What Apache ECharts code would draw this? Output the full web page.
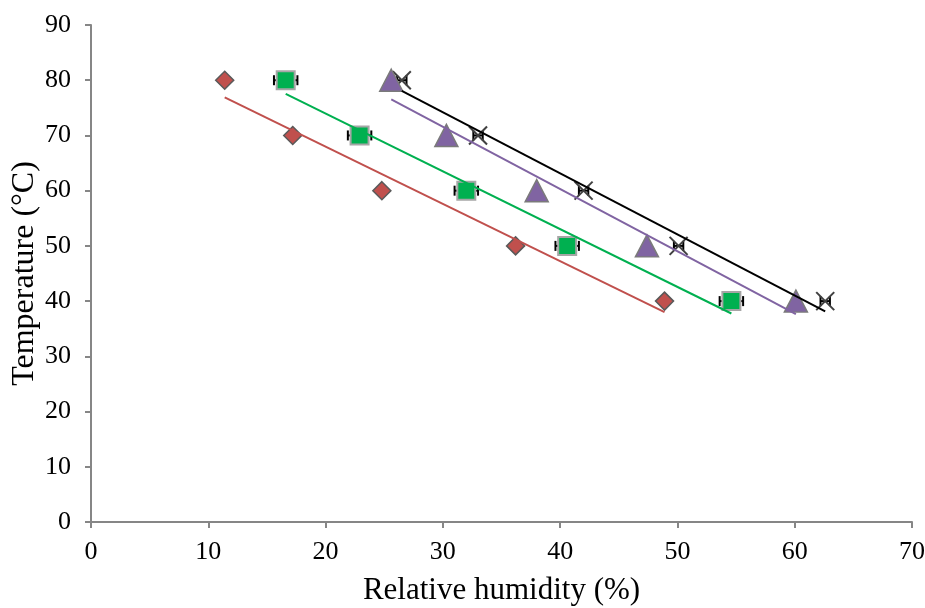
<!DOCTYPE html>
<html>
<head>
<meta charset="utf-8">
<script src="https://cdn.jsdelivr.net/npm/echarts@6/dist/echarts.min.js"></script>
<style>
  html, body { margin: 0; padding: 0; background: #fff; }
  #chart { width: 925px; height: 608px; }
</style>
</head>
<body>
<div id="chart"></div>
<script>
// temperatures (same for every series)
var temps = [80, 70, 60, 50, 40];
// relative humidity, one array per series
var rhDiamond = [11.4, 17.2, 24.8, 36.2, 48.9];
var rhSquare = [16.6, 22.9, 32.0, 40.6, 54.6];
var rhTriangle = [25.6, 30.3, 38.0, 47.4, 60.1];
var rhCross = [26.5, 33.0, 42.0, 50.1, 62.6];
// horizontal error (±) for the two series that show bars
var errSquare = [1.0, 1.0, 1.0, 1.0, 1.0];
var errCross = [0.4, 0.4, 0.4, 0.4, 0.4];

var xTicks = [0, 10, 20, 30, 40, 50, 60, 70];
var yTicks = [0, 10, 20, 30, 40, 50, 60, 70, 80, 90];

function pairs(xs) {
  return xs.map(function (x, i) { return [x, temps[i]]; });
}

// least squares trendline (y on x), drawn across the data range
function trend(xs) {
  var n = xs.length, mx = 0, my = 0;
  for (var i = 0; i < n; i++) { mx += xs[i]; my += temps[i]; }
  mx /= n; my /= n;
  var sxy = 0, sxx = 0;
  for (var j = 0; j < n; j++) {
    sxy += (xs[j] - mx) * (temps[j] - my);
    sxx += (xs[j] - mx) * (xs[j] - mx);
  }
  var b = sxy / sxx, a = my - b * mx;
  var lo = Math.min.apply(null, xs), hi = Math.max.apply(null, xs);
  return [[lo, a + b * lo], [hi, a + b * hi]];
}

function errData(xs, errs) {
  return xs.map(function (x, i) { return [x, temps[i], errs[i]]; });
}

function errorBars(capH, withCross) {
  return function (params, api) {
    var x = api.value(0), y = api.value(1), e = api.value(2);
    var l = api.coord([x - e, y]), r = api.coord([x + e, y]), c = api.coord([x, y]);
    var st = { stroke: '#000', lineWidth: 2 };
    var kids = [
      { type: 'line', shape: { x1: l[0], y1: l[1], x2: r[0], y2: r[1] }, style: st },
      { type: 'line', shape: { x1: l[0], y1: l[1] - capH, x2: l[0], y2: l[1] + capH }, style: st },
      { type: 'line', shape: { x1: r[0], y1: r[1] - capH, x2: r[0], y2: r[1] + capH }, style: st }
    ];
    if (withCross) {
      var s = 9, cs = { stroke: '#404040', lineWidth: 2 };
      kids.push({ type: 'line', shape: { x1: c[0] - s, y1: c[1] - s, x2: c[0] + s, y2: c[1] + s }, style: cs });
      kids.push({ type: 'line', shape: { x1: c[0] - s, y1: c[1] + s, x2: c[0] + s, y2: c[1] - s }, style: cs });
    }
    return { type: 'group', children: kids };
  };
}

var font = 'Liberation Serif';
var axisGray = '#868686';

var chart = echarts.init(document.getElementById('chart'));
var option = {
  animation: false,
  grid: { left: 91, right: 13, top: 25, bottom: 86, outerBoundsMode: 'none', containLabel: false },
  xAxis: {
    type: 'value',
    min: xTicks[0], max: xTicks[xTicks.length - 1], interval: 10,
    name: 'Relative humidity (%)',
    nameLocation: 'middle', nameGap: 53, nameMoveOverlap: false,
    nameTextStyle: { fontFamily: font, fontSize: 31, color: '#000' },
    axisLine: { show: true, lineStyle: { color: axisGray, width: 2 } },
    axisTick: { show: true, length: 6, lineStyle: { color: axisGray, width: 2 } },
    axisLabel: { fontFamily: font, fontSize: 26, color: '#000', margin: 17 },
    splitLine: { show: false }
  },
  yAxis: {
    type: 'value',
    min: yTicks[0], max: yTicks[yTicks.length - 1], interval: 10,
    name: 'Temperature (°C)',
    nameLocation: 'middle', nameGap: 50, nameMoveOverlap: false,
    nameTextStyle: { fontFamily: font, fontSize: 32, color: '#000' },
    axisLine: { show: true, lineStyle: { color: axisGray, width: 2 } },
    axisTick: { show: true, length: 6, lineStyle: { color: axisGray, width: 2 } },
    axisLabel: { fontFamily: font, fontSize: 26, color: '#000', margin: 20 },
    splitLine: { show: false }
  },
  series: [
    {
      type: 'custom', z: 2, renderItem: errorBars(5, false),
      data: errData(rhSquare, errSquare)
    },
    {
      type: 'scatter', z: 3, symbol: 'diamond', symbolSize: 18,
      itemStyle: { color: '#C0504D', borderColor: '#5a5a5a', borderWidth: 1.5, opacity: 1 },
      data: pairs(rhDiamond)
    },
    {
      type: 'scatter', z: 3, symbol: 'rect', symbolSize: 18,
      itemStyle: { color: '#00B050', borderColor: '#A6A6A6', borderWidth: 2, opacity: 1 },
      data: pairs(rhSquare)
    },
    {
      type: 'scatter', z: 3, symbol: 'triangle', symbolSize: [23, 22],
      itemStyle: { color: '#8064A2', borderColor: '#7a7a7a', borderWidth: 1.5, opacity: 1 },
      data: pairs(rhTriangle)
    },
    {
      type: 'custom', z: 3, renderItem: errorBars(5, true),
      data: errData(rhCross, errCross)
    },
    {
      type: 'line', z: 4, symbol: 'none', data: trend(rhDiamond),
      lineStyle: { color: '#C0504D', width: 2 }
    },
    {
      type: 'line', z: 4, symbol: 'none', data: trend(rhSquare),
      lineStyle: { color: '#00B050', width: 2 }
    },
    {
      type: 'line', z: 4, symbol: 'none', data: trend(rhTriangle),
      lineStyle: { color: '#8064A2', width: 2 }
    },
    {
      type: 'line', z: 4, symbol: 'none', data: trend(rhCross),
      lineStyle: { color: '#000', width: 2 }
    }
  ]
};
chart.setOption(option);
</script>
</body>
</html>
